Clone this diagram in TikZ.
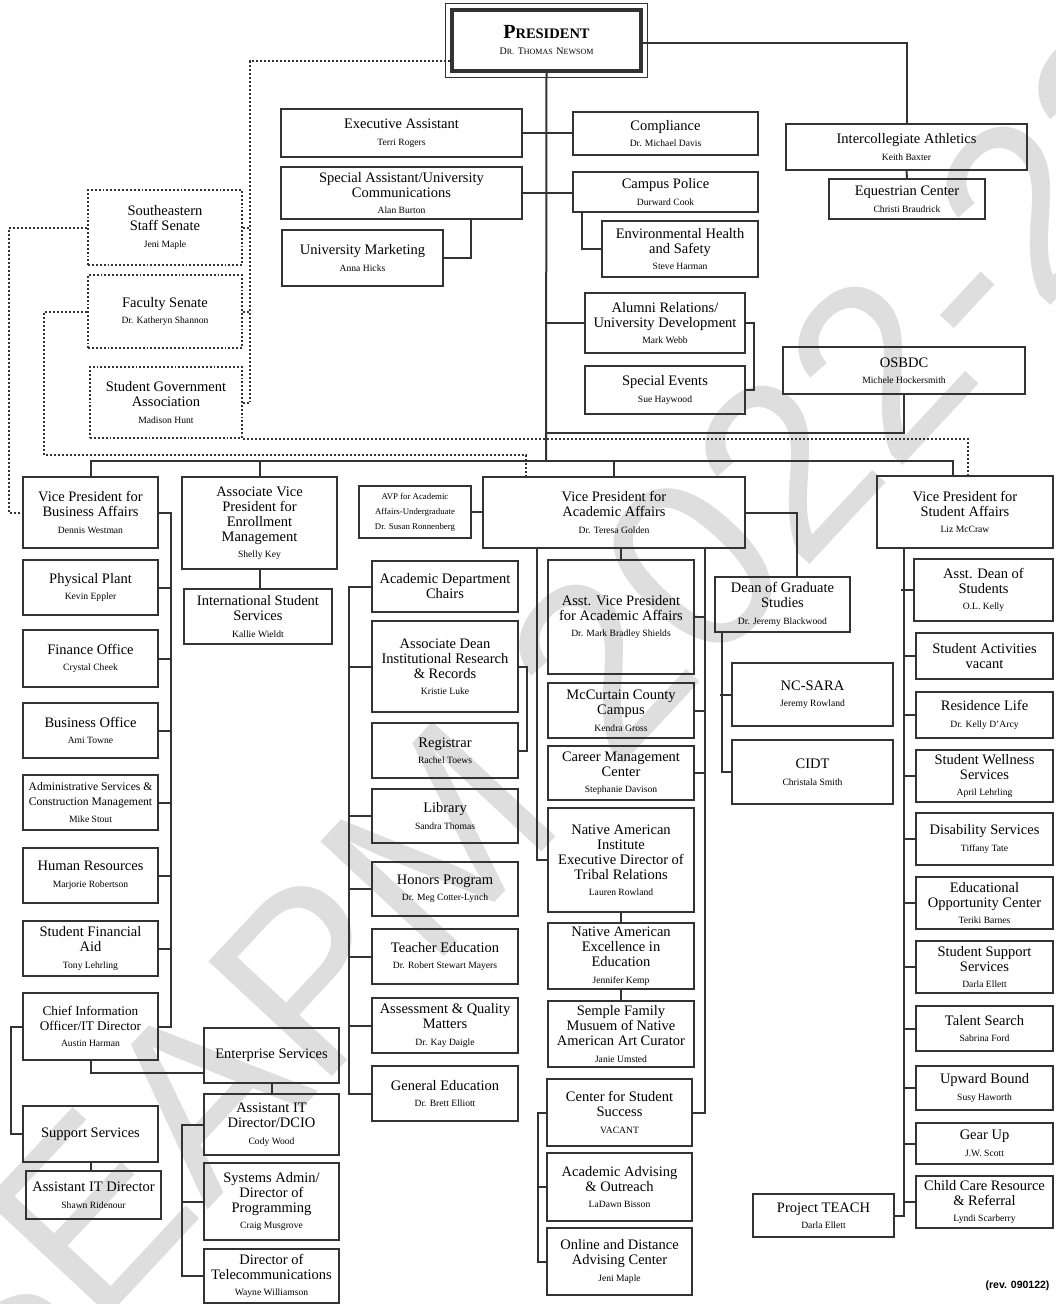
\documentclass[tikz,border=0pt]{standalone}
\usepackage{fontspec}
\setmainfont{Liberation Serif}
\newfontfamily\wmfont{Liberation Sans}
\usetikzlibrary{calc,positioning}
\newcommand{\nm}[1]{\\[1.5pt]{\fontsize{9.6}{15}\selectfont #1}}
\newcommand{\smc}[2]{{\fontsize{10}{12}\selectfont #1}{\fontsize{8}{12}\selectfont #2}}
\tikzset{%
	unit/.style   = {draw=black!80, line width=1.9pt, align=center, inner sep=0pt, font=\fontsize{14.5}{15}\selectfont},
	sz/.style 2 args = {minimum width=#1pt, minimum height=#2pt},
	senate/.style = {unit, dotted},
	link/.style   = {draw=black!80, line width=2pt},
	dotlink/.style= {link, dotted},
}
\begin{document}
\begin{tikzpicture}[x=1pt,y=-1pt]
	\useasboundingbox (0,0) rectangle (1055,1304);
	\node[black!13, font=\wmfont\fontsize{245}{245}\selectfont, rotate=47] (wm) at (545,725) {SEAPM 2022-23};
	% president and staff
	\node[unit, line width=3.5pt, sz={189}{61}] (pres) at (546.5,40.5) {{\fontsize{20}{22}\selectfont\bfseries P}{\fontsize{14.5}{22}\selectfont\bfseries RESIDENT}\\[1pt]\smc{D}{R.} \smc{T}{HOMAS} \smc{N}{EWSOM}};
	\draw[black!80, line width=0.9pt] ([shift={(-5,-5)}]pres.north west) rectangle ([shift={(5,5)}]pres.south east);
	\node[unit, sz={241}{48}] (exa) at (401.5,133) {Executive Assistant\nm{Terri Rogers}};
	\node[unit, sz={185}{43}] (cmp) at (665.5,133.5) {Compliance\nm{Dr. Michael Davis}};
	\node[unit, sz={241}{52}] (spa) at (401.5,193) {Special Assistant/University\\Communications\nm{Alan Burton}};
	\node[unit, sz={185}{40}] (cpo) at (665.5,192) {Campus Police\nm{Durward Cook}};
	\node[unit, sz={161}{56}] (umk) at (362.5,258) {University Marketing\nm{Anna Hicks}};
	\node[unit, sz={156}{56}] (ehs) at (680,249) {Environmental Health\\and Safety\nm{Steve Harman}};
	\node[unit, sz={241}{46}] (ath) at (906.5,147) {Intercollegiate Athletics\nm{Keith Baxter}};
	\node[unit, sz={156}{40}] (equ) at (907,199) {Equestrian Center\nm{Christi Braudrick}};
	\node[unit, sz={160}{60}] (alu) at (665,323) {Alumni Relations/\\University Development\nm{Mark Webb}};
	\node[unit, sz={160}{48}] (spe) at (665,390) {Special Events\nm{Sue Haywood}};
	\node[unit, sz={242}{47}] (osb) at (904,370.5) {OSBDC\nm{Michele Hockersmith}};
	% senates
	\node[senate, sz={154}{75}] (sss) at (165,227.5) {Southeastern\\Staff Senate\nm{Jeni Maple}};
	\node[senate, sz={154}{73}] (fac) at (165,311.5) {Faculty Senate\nm{Dr. Katheryn Shannon}};
	\node[senate, sz={152}{71}] (sga) at (166,402.5) {Student Government\\Association\nm{Madison Hunt}};
	% business affairs
	\node[unit, sz={135}{71}] (vpba) at (90.5,512.5) {Vice President for\\Business Affairs\nm{Dennis Westman}};
	\node[unit, sz={135}{55}] (phy) at (90.5,587.5) {Physical Plant\nm{Kevin Eppler}};
	\node[unit, sz={135}{57}] (fin) at (90.5,658.5) {Finance Office\nm{Crystal Cheek}};
	\node[unit, sz={135}{55}] (bof) at (90.5,730.5) {Business Office\nm{Ami Towne}};
	\node[unit, sz={135}{55}, font=\fontsize{11.6}{15}\selectfont] (adm) at (90.5,802.5) {Administrative Services \&\\Construction Management\nm{Mike Stout}};
	\node[unit, sz={135}{55}] (hr) at (90.5,875.5) {Human Resources\nm{Marjorie Robertson}};
	\node[unit, sz={135}{55}] (sfa) at (90.5,948.5) {Student Financial\\Aid\nm{Tony Lehrling}};
	\node[unit, sz={135}{67}, font=\fontsize{13.2}{15}\selectfont] (cio) at (90.5,1026.5) {Chief Information\\Officer/IT Director\nm{Austin Harman}};
	\node[unit, sz={135}{56}] (sup) at (90.5,1134) {Support Services};
	\node[unit, sz={135}{48}] (ait) at (93.5,1195) {Assistant IT Director\nm{Shawn Ridenour}};
	\node[unit, sz={135}{55}] (ent) at (271.5,1055.5) {Enterprise Services};
	\node[unit, sz={135}{61}] (dci) at (271.5,1124.5) {Assistant IT\\Director/DCIO\nm{Cody Wood}};
	\node[unit, sz={135}{77}] (sys) at (271.5,1201.5) {Systems Admin/\\Director of\\Programming\nm{Craig Musgrove}};
	\node[unit, sz={135}{54}] (tel) at (271.5,1276) {Director of\\Telecommunications\nm{Wayne Williamson}};
	% enrollment management
	\node[unit, sz={155}{92}] (avpem) at (259.5,523) {Associate Vice\\President for\\Enrollment\\Management\nm{Shelly Key}};
	\node[unit, sz={148}{55}] (iss) at (258,616.5) {International Student\\Services\nm{Kallie Wieldt}};
	% academic affairs
	\node[unit, sz={112}{52}, font=\fontsize{8.8}{15}\selectfont] (avpu) at (415,512) {AVP for Academic\\Affairs-Undergraduate\\Dr. Susan Ronnenberg};
	\node[unit, sz={262}{71}] (vpaa) at (614,512.5) {Vice President for\\Academic Affairs\nm{Dr. Teresa Golden}};
	\node[unit, sz={146}{51}] (adc) at (445,586.5) {Academic Department\\Chairs};
	\node[unit, sz={146}{91}] (adi) at (445,666.5) {Associate Dean\\Institutional Research\\\& Records\nm{Kristie Luke}};
	\node[unit, sz={146}{55}] (reg) at (445,750.5) {Registrar\nm{Rachel Toews}};
	\node[unit, sz={146}{54}] (lib) at (445,816) {Library\nm{Sandra Thomas}};
	\node[unit, sz={146}{54}] (hon) at (445,889) {Honors Program\nm{Dr. Meg Cotter-Lynch}};
	\node[unit, sz={146}{55}] (tch) at (445,956.5) {Teacher Education\nm{Dr. Robert Stewart Mayers}};
	\node[unit, sz={146}{55}] (aqm) at (445,1025.5) {Assessment \& Quality\\Matters\nm{Dr. Kay Daigle}};
	\node[unit, sz={146}{55}] (gen) at (445,1093.5) {General Education\nm{Dr. Brett Elliott}};
	\node[unit, sz={146}{114}] (avp) at (621,617) {Asst. Vice President\\for Academic Affairs\nm{Dr. Mark Bradley Shields}};
	\node[unit, sz={146}{55}] (mcc) at (621,710.5) {McCurtain County\\Campus\nm{Kendra Gross}};
	\node[unit, sz={146}{54}] (car) at (621,773) {Career Management\\Center\nm{Stephanie Davison}};
	\node[unit, sz={146}{104}] (nai) at (621,860) {Native American\\Institute\\Executive Director of\\Tribal Relations\nm{Lauren Rowland}};
	\node[unit, sz={146}{66}] (nae) at (621,956) {Native American\\Excellence in\\Education\nm{Jennifer Kemp}};
	\node[unit, sz={146}{66}] (sem) at (621,1034) {Semple Family\\Musuem of Native\\American Art Curator\nm{Janie Umsted}};
	\node[unit, sz={145}{67}] (css) at (619.5,1112.5) {Center for Student\\Success\nm{VACANT}};
	\node[unit, sz={145}{68}] (aao) at (619.5,1187) {Academic Advising\\\& Outreach\nm{LaDawn Bisson}};
	\node[unit, sz={145}{67}] (odl) at (619.5,1261.5) {Online and Distance\\Advising Center\nm{Jeni Maple}};
	\node[unit, sz={135}{55}] (dgs) at (782.5,604.5) {Dean of Graduate\\Studies\nm{Dr. Jeremy Blackwood}};
	\node[unit, sz={161}{63}] (ncs) at (812.5,694.5) {NC-SARA\nm{Jeremy Rowland}};
	\node[unit, sz={161}{64}] (cid) at (812.5,772) {CIDT\nm{Christala Smith}};
	% student affairs
	\node[unit, sz={176}{72}] (vpsa) at (965,512) {Vice President for\\Student Affairs\nm{Liz McCraw}};
	\node[unit, sz={139}{62}] (ads) at (983.5,590) {Asst. Dean of\\Students\nm{O.L. Kelly}};
	\node[unit, sz={137}{46}] (sac) at (984.5,656) {Student Activities\\vacant};
	\node[unit, sz={137}{46}] (res) at (984.5,715) {Residence Life\nm{Dr. Kelly D'Arcy}};
	\node[unit, sz={137}{52}] (swe) at (984.5,776) {Student Wellness\\Services\nm{April Lehrling}};
	\node[unit, sz={137}{52}] (dis) at (984.5,839) {Disability Services\nm{Tiffany Tate}};
	\node[unit, sz={137}{52}] (eoc) at (984.5,903) {Educational\\Opportunity Center\nm{Teriki Barnes}};
	\node[unit, sz={137}{52}] (ssv) at (984.5,967) {Student Support\\Services\nm{Darla Ellett}};
	\node[unit, sz={137}{45}] (tal) at (984.5,1028.5) {Talent Search\nm{Sabrina Ford}};
	\node[unit, sz={137}{44}] (upw) at (984.5,1088) {Upward Bound\nm{Susy Haworth}};
	\node[unit, sz={137}{41}] (gea) at (984.5,1143.5) {Gear Up\nm{J.W. Scott}};
	\node[unit, sz={137}{52}] (chi) at (984.5,1202) {Child Care Resource\\\& Referral\nm{Lyndi Scarberry}};
	\node[unit, sz={141}{43}] (pte) at (823.5,1215.5) {Project TEACH\nm{Darla Ellett}};
	\node[anchor=east, font=\wmfont\bfseries\fontsize{10.5}{12}\selectfont] (rev) at (1053,1286) {(rev. 090122)};
	% trunk and top links
	\coordinate (vpbus) at (546,461);
	\coordinate (osbj) at (546,433);
	\coordinate (fv) at (526,455);
	\draw[link] (pres.south) -- (vpbus);
	\draw[link] (exa.east) -- (exa.east -| cmp.west);
	\draw[link] (spa.east) -- (spa.east -| cpo.west);
	\draw[link] (spa.south) ++(69.5,0) |- (umk.east);
	\draw[link] (cpo.south) ++(-83.5,0) |- (ehs.west);
	\draw[link] ([yshift=-2pt]pres.east) -| (ath.north);
	\draw[link] (ath.south) -- (equ.north);
	\draw[link] (alu.west) -- (alu.west -| vpbus);
	\draw[link] (alu.east) -- ++(8,0) |- (spe.east);
	\draw[link] (osb.south) |- (osbj);
	% dotted links
	\draw[dotlink] ([yshift=-20.5pt]pres.west) -| (250,402);
	\foreach \s in {sss,fac,sga} \draw[dotlink] (\s.east) -- (\s.east -| 250,0);
	\draw[dotlink] (sss.west) -- ++(-78,0) |- (vpba.west);
	\draw[dotlink] (fac.west) -- ++(-43,0) |- (fv) -- (fv |- vpaa.north);
	\draw[dotlink] (sga.south east) -| ([xshift=3pt]vpsa.north);
	% vice president bus
	\draw[link] (vpba.north) |- (vpbus) -| ([xshift=-12pt]vpsa.north);
	\draw[link] (avpem.north) -- (avpem.north |- vpbus);
	\draw[link] (vpaa.north) -- (vpaa.north |- vpbus);
	% business affairs
	\draw[link] (vpba.east) -- ++(12,0) |- (cio.east);
	\foreach \n in {phy,fin,bof,adm,hr,sfa} \draw[link] (\n.east) -- ++(12,0);
	\draw[link] (cio.west) -- ++(-11,0) |- (sup.west);
	\draw[link] (sup.south) -- (sup.south |- ait.north);
	\draw[link] (cio.south) |- ([yshift=-17pt]ent.west);
	\draw[link] (ent.south) -- (dci.north);
	\draw[link] (dci.west) -- ++(-21,0) |- (tel.west);
	\draw[link] (sys.west) -- ++(-21,0);
	\draw[link] (avpem.south) -- (avpem.south |- iss.north);
	% academic affairs
	\draw[link] (avpu.east) -- (avpu.east -| vpaa.west);
	\draw[link] ([xshift=-77pt]vpaa.south) |- (nai.west);
	\draw[link] (avp.north |- vpaa.south) -- (avp.north);
	\draw[link] ([xshift=91pt]vpaa.south) |- (css.east);
	\foreach \n in {avp,mcc,car} \draw[link] (\n.east) -- ++(11,0);
	\draw[link] (vpaa.east) -| ([xshift=14pt]dgs.north);
	\draw[link] ([xshift=-60.5pt]dgs.south) |- (cid.west);
	\draw[link] (ncs.west) -- ++(-11,0);
	\draw[link] (nai.south) -- (nae.north);
	\draw[link] (nae.south) -- (sem.north);
	\draw[link] (css.west) -- ++(-8,0) |- (odl.west);
	\draw[link] (aao.west) -- ++(-8,0);
	\draw[link] (adc.west) -- ++(-22,0) |- (gen.west);
	\foreach \n in {adi,lib,hon,tch,aqm} \draw[link] (\n.west) -- ++(-22,0);
	\draw[link] (adi.east) -- ++(8,0) |- (reg.east);
	% student affairs
	\draw[link] ([xshift=-61pt]vpsa.south) |- (pte.east);
	\foreach \n in {ads,sac,res,swe,dis,eoc,ssv,tal,upw,gea,chi} \draw[link] (\n.west) -- ++(-12,0);
\end{tikzpicture}
\end{document}
